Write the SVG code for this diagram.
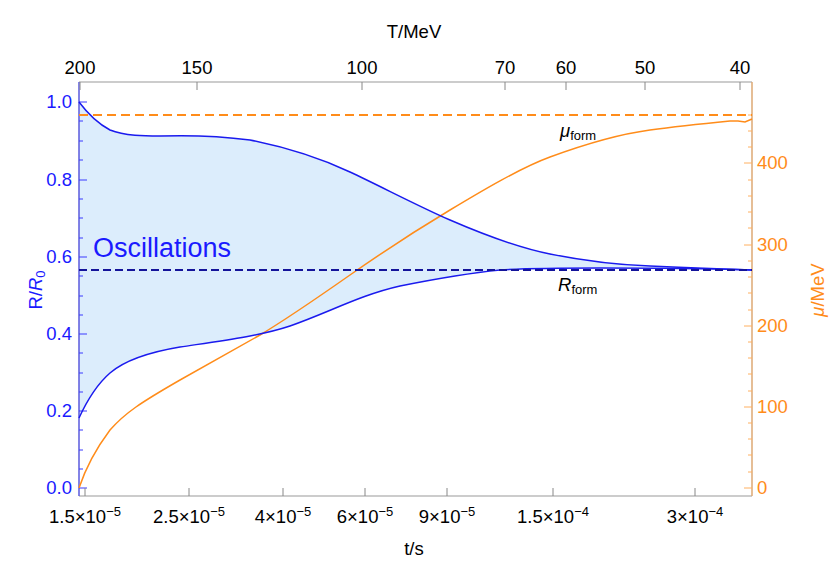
<svg xmlns="http://www.w3.org/2000/svg" width="830" height="578" viewBox="0 0 830 578">
<style>
text{font-family:"Liberation Sans",Arial,sans-serif;font-size:18.5px}
.b{fill:#1a1aff}.o{fill:#ff8c1a}.k{fill:#000}
.tk{stroke:#888;stroke-width:1}
.bt{stroke:#3a3aff;stroke-width:1}
.ot{stroke:#ffb060;stroke-width:1}
</style>
<rect width="830" height="578" fill="#fff"/>
<g id="fill">
<path d="M79,102 C85,110 95,122 110,130 C125,136 145,136 160,136 C190,135 220,136 250,140 C290,148 320,158 350,172 C380,186 420,207 450,220 C480,233 520,248 550,254 C580,260 620,265 650,266 C690,268 720,269 752,270 L752,270 C720,269 680,268 600,268 C560,268 530,268 500,270 C460,274 430,280 400,286 C360,295 330,312 290,326 C260,336 220,341 180,347 C150,352 125,360 110,373 C95,386 85,405 79,418 Z" fill="#dcedfc"/>
</g>
<g id="axes" fill="none">
<path d="M79,82 H752 V496 H79 Z" stroke="#999" stroke-width="1"/>
<line x1="79" y1="82" x2="79" y2="496" stroke="#3a3aff"/>
<line x1="752" y1="82" x2="752" y2="496" stroke="#ffb060"/>
<g class="bt">
<line x1="79" y1="102" x2="87" y2="102"/><line x1="79" y1="180" x2="87" y2="180"/><line x1="79" y1="257" x2="87" y2="257"/><line x1="79" y1="334" x2="87" y2="334"/><line x1="79" y1="411" x2="87" y2="411"/><line x1="79" y1="488" x2="87" y2="488"/>
<line x1="79" y1="121" x2="83" y2="121"/><line x1="79" y1="141" x2="83" y2="141"/><line x1="79" y1="160" x2="83" y2="160"/><line x1="79" y1="199" x2="83" y2="199"/><line x1="79" y1="218" x2="83" y2="218"/><line x1="79" y1="238" x2="83" y2="238"/><line x1="79" y1="276" x2="83" y2="276"/><line x1="79" y1="296" x2="83" y2="296"/><line x1="79" y1="315" x2="83" y2="315"/><line x1="79" y1="353" x2="83" y2="353"/><line x1="79" y1="373" x2="83" y2="373"/><line x1="79" y1="392" x2="83" y2="392"/><line x1="79" y1="430" x2="83" y2="430"/><line x1="79" y1="450" x2="83" y2="450"/><line x1="79" y1="469" x2="83" y2="469"/>
</g>
<g class="ot">
<line x1="752" y1="488" x2="744" y2="488"/><line x1="752" y1="407" x2="744" y2="407"/><line x1="752" y1="326" x2="744" y2="326"/><line x1="752" y1="245" x2="744" y2="245"/><line x1="752" y1="163" x2="744" y2="163"/>
<line x1="752" y1="472" x2="748" y2="472"/><line x1="752" y1="455" x2="748" y2="455"/><line x1="752" y1="439" x2="748" y2="439"/><line x1="752" y1="423" x2="748" y2="423"/><line x1="752" y1="391" x2="748" y2="391"/><line x1="752" y1="374" x2="748" y2="374"/><line x1="752" y1="358" x2="748" y2="358"/><line x1="752" y1="342" x2="748" y2="342"/><line x1="752" y1="310" x2="748" y2="310"/><line x1="752" y1="293" x2="748" y2="293"/><line x1="752" y1="277" x2="748" y2="277"/><line x1="752" y1="261" x2="748" y2="261"/><line x1="752" y1="228" x2="748" y2="228"/><line x1="752" y1="212" x2="748" y2="212"/><line x1="752" y1="196" x2="748" y2="196"/><line x1="752" y1="180" x2="748" y2="180"/><line x1="752" y1="147" x2="748" y2="147"/><line x1="752" y1="131" x2="748" y2="131"/><line x1="752" y1="115" x2="748" y2="115"/>
</g>
<g class="tk">
<line x1="85" y1="496" x2="85" y2="488"/><line x1="189" y1="496" x2="189" y2="488"/><line x1="283" y1="496" x2="283" y2="488"/><line x1="365" y1="496" x2="365" y2="488"/><line x1="447" y1="496" x2="447" y2="488"/><line x1="553" y1="496" x2="553" y2="488"/><line x1="695" y1="496" x2="695" y2="488"/>
<line x1="80" y1="82" x2="80" y2="90"/><line x1="197" y1="82" x2="197" y2="90"/><line x1="362" y1="82" x2="362" y2="90"/><line x1="505" y1="82" x2="505" y2="90"/><line x1="566" y1="82" x2="566" y2="90"/><line x1="645" y1="82" x2="645" y2="90"/><line x1="740" y1="82" x2="740" y2="90"/>
</g>
</g>
<g id="curves" fill="none" stroke-width="1.5">
<line x1="79" y1="115" x2="752" y2="115" stroke="#ff8c1a" stroke-width="2" stroke-dasharray="9,5"/>
<path d="M79,488 C85,470 95,450 110,430 C125,413 140,403 180,380 C200,369 230,352 260,335 C290,317 320,296 350,275 C380,254 420,228 450,210 C480,192 520,168 550,157 C580,146 620,134 650,130 C680,126 700,124 730,121 L738,121 L745,122 L752,119" stroke="#ff8c1a"/>
<path d="M79,102 C85,110 95,122 110,130 C125,136 145,136 160,136 C190,135 220,136 250,140 C290,148 320,158 350,172 C380,186 420,207 450,220 C480,233 520,248 550,254 C580,260 620,265 650,266 C690,268 720,269 752,270" stroke="#1a1aee"/>
<path d="M79,418 C85,405 95,386 110,373 C125,360 150,352 180,347 C220,341 260,336 290,326 C330,312 360,295 400,286 C430,280 460,274 500,270 C530,268 560,268 600,268 C680,268 720,269 752,270" stroke="#1a1aee"/>
<line x1="79" y1="270" x2="752" y2="270" stroke="#14149a" stroke-width="2" stroke-dasharray="8,4"/>
</g>
<g id="labels">
<g class="b" text-anchor="end">
<text x="72" y="108">1.0</text><text x="72" y="186">0.8</text><text x="72" y="263">0.6</text><text x="72" y="340">0.4</text><text x="72" y="417">0.2</text><text x="72" y="494">0.0</text>
</g>
<g class="o">
<text x="757" y="494">0</text><text x="757" y="413">100</text><text x="757" y="332">200</text><text x="757" y="251">300</text><text x="757" y="169">400</text>
</g>
<g class="k" text-anchor="middle">
<text x="80" y="74">200</text><text x="197" y="74">150</text><text x="362" y="74">100</text><text x="505" y="74">70</text><text x="566" y="74">60</text><text x="645" y="74">50</text><text x="740" y="74">40</text>
<text x="414" y="38">T/MeV</text>
<text x="414" y="555">t/s</text>
<text x="85" y="523">1.5×10<tspan dy="-7" font-size="13">−5</tspan></text>
<text x="189" y="523">2.5×10<tspan dy="-7" font-size="13">−5</tspan></text>
<text x="283" y="523">4×10<tspan dy="-7" font-size="13">−5</tspan></text>
<text x="365" y="523">6×10<tspan dy="-7" font-size="13">−5</tspan></text>
<text x="447" y="523">9×10<tspan dy="-7" font-size="13">−5</tspan></text>
<text x="553" y="523">1.5×10<tspan dy="-7" font-size="13">−4</tspan></text>
<text x="695" y="523">3×10<tspan dy="-7" font-size="13">−4</tspan></text>
</g>
<text class="b" x="93" y="257" style="font-size:27px">Oscillations</text>
<text class="k" x="560" y="137"><tspan font-style="italic">μ</tspan><tspan font-size="13" dy="3">form</tspan></text>
<text class="k" x="558" y="291"><tspan font-style="italic">R</tspan><tspan font-size="13" dy="3">form</tspan></text>
<text class="b" transform="translate(42,290) rotate(-90)" text-anchor="middle">R/<tspan font-style="italic">R</tspan><tspan font-size="13" dy="3">0</tspan></text>
<text class="o" transform="translate(824,290) rotate(-90)" text-anchor="middle"><tspan font-style="italic">μ</tspan>/MeV</text>
</g>
</svg>
